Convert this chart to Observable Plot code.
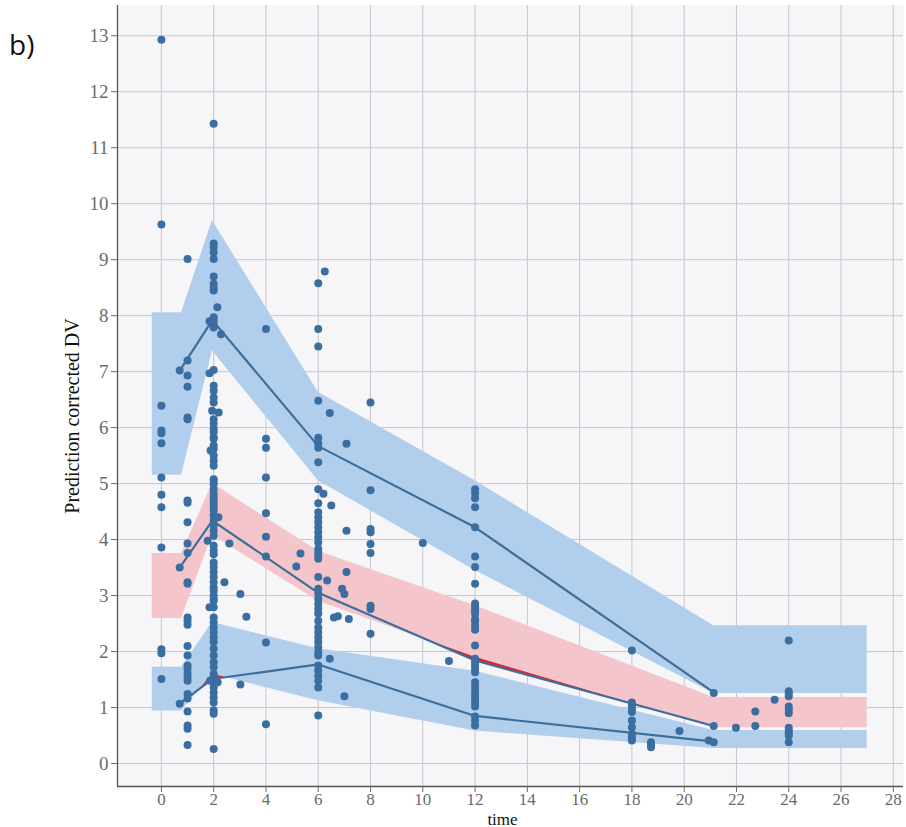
<!DOCTYPE html>
<html>
<head>
<meta charset="utf-8">
<script src="https://cdn.jsdelivr.net/npm/d3@7"></script>
<script src="https://cdn.jsdelivr.net/npm/@observablehq/plot@0.6"></script>
<style>
  html, body { margin: 0; padding: 0; background: #ffffff; }
  #wrap { position: relative; width: 906px; height: 827px; }
  #tag { position: absolute; left: 9px; top: 25px; font-family: "Open Sans", "Noto Sans", sans-serif; font-size: 28px; color: #111; }
  #chart { position: absolute; left: 0; top: 0; }
  #chart svg, #chart svg g, #chart svg text { font-family: "Liberation Serif", "DejaVu Serif", serif !important; }
</style>
</head>
<body>
<div id="wrap">
  <div id="chart"></div>
  <div id="tag">b)</div>
</div>
<script>
// ---------- data ----------
const xTicks = [0, 2, 4, 6, 8, 10, 12, 14, 16, 18, 20, 22, 24, 26, 28];
const yTicks = [0, 1, 2, 3, 4, 5, 6, 7, 8, 9, 10, 11, 12, 13];
const xDomain = [-1.68, 28.39];
const yDomain = [-0.41, 13.54];
const xLabel = "time";
const yLabel = "Prediction corrected DV";

// simulated prediction intervals (band vertices)
const bandX = [-0.35, 0.77, 1.95, 6, 12, 21.13, 27];
const upLo  = [5.15, 5.15, 7.37, 5.05, 3.45, 1.25, 1.25];
const upHi  = [8.05, 8.05, 9.7, 6.63, 5.05, 2.46, 2.46];
const medLo = [2.59, 2.59, 4.08, 2.9, 1.9, 0.64, 0.64];
const medHi = [3.75, 3.75, 5.0, 3.79, 2.82, 1.18, 1.18];
const lowLo = [0.94, 0.94, 1.6, 1.12, 0.58, 0.27, 0.27];
const lowHi = [1.72, 1.72, 2.52, 2.05, 1.65, 0.59, 0.59];

// observed percentiles
const lineX  = [0.7, 1.95, 6, 12, 21.13];
const upObs  = [7.02, 7.92, 5.67, 4.22, 1.27];
const medObs = [3.5, 4.34, 3.05, 1.84, 0.67];
const lowObs = [1.07, 1.51, 1.77, 0.85, 0.39];

// observations by nominal time
const col0  = [12.93, 9.63, 6.39, 5.95, 5.9, 5.72, 5.11, 4.8, 4.58, 3.86, 2.04, 1.97, 1.51];
const col07 = [7.02, 3.5, 1.07];
const col1  = [9.01, 7.2, 6.93, 6.73, 6.18, 6.15, 4.7, 4.66, 4.31, 3.93, 3.76, 3.24, 3.21, 2.61, 2.55, 2.48, 2.1, 1.93, 1.75, 1.69, 1.61, 1.54, 1.48, 1.24, 1.16, 0.93, 0.68, 0.62, 0.33];
const col2  = [11.43, 9.29, 9.22, 9.13, 9.01, 8.7, 8.57, 8.5, 8.45, 7.97, 7.92, 7.85, 7.79, 7.03, 6.75, 6.66, 6.54, 6.45, 6.15, 6.07, 5.98, 5.92, 5.83, 5.8, 5.68, 5.62, 5.5, 5.41, 5.32, 5.08, 5.05, 4.99, 4.9, 4.82, 4.76, 4.7, 4.64, 4.58, 4.52, 4.43, 4.34, 4.25, 4.16, 4.07, 3.89, 3.8, 3.74, 3.59, 3.51, 3.42, 3.33, 3.24, 3.15, 3.09, 3.0, 2.94, 2.91, 2.79, 2.61, 2.52, 2.43, 2.34, 2.25, 2.17, 2.05, 1.93, 1.81, 1.72, 1.6, 1.54, 1.48, 1.45, 1.36, 1.27, 1.18, 1.09, 0.95, 0.89, 0.26];
const col4  = [7.76, 5.8, 5.64, 5.11, 4.47, 4.05, 3.7, 2.16, 0.7];
const col6  = [8.58, 7.76, 7.45, 6.48, 5.82, 5.72, 5.64, 5.38, 4.9, 4.65, 4.49, 4.4, 4.31, 4.22, 4.13, 4.04, 3.95, 3.83, 3.77, 3.71, 3.66, 3.33, 3.12, 3.03, 2.94, 2.85, 2.76, 2.68, 2.55, 2.43, 2.34, 2.25, 2.17, 2.08, 1.99, 1.93, 1.75, 1.66, 1.57, 1.48, 1.36, 0.86];
const col8  = [6.45, 4.88, 4.19, 4.13, 3.92, 3.76, 2.82, 2.76, 2.32];
const col12 = [4.9, 4.83, 4.74, 4.58, 4.22, 3.7, 3.51, 3.21, 2.86, 2.8, 2.74, 2.68, 2.58, 2.54, 2.46, 2.39, 2.11, 1.87, 1.81, 1.75, 1.69, 1.63, 1.45, 1.38, 1.3, 1.23, 1.16, 1.09, 1.02, 0.84, 0.76, 0.68];
const col18 = [2.02, 1.09, 1.04, 0.98, 0.92, 0.77, 0.65, 0.53, 0.47, 0.41];
const col24 = [2.2, 1.29, 1.24, 1.2, 1.02, 0.96, 0.9, 0.64, 0.59, 0.54, 0.5, 0.38];
// scattered observations at other times
const otherT  = [1.84, 1.84, 1.94, 2.19, 1.88, 2.14, 2.28, 2.18, 1.77, 2.41, 2.6, 3.02, 3.25, 3.02, 1.84, 1.86, 2.15, 5.32, 5.16, 6.25, 6.44, 7.08, 6.2, 6.5, 7.08, 7.08, 6.34, 6.91, 7.0, 6.6, 6.75, 7.17, 6.44, 7.0, 10.0, 11.0, 18.73, 18.73, 18.73, 19.82, 20.94, 21.13, 21.13, 21.13, 21.98, 22.72, 22.72, 23.46];
const otherDV = [7.9, 6.97, 6.3, 6.27, 5.59, 8.15, 7.67, 4.4, 3.98, 3.24, 3.93, 3.03, 2.62, 1.41, 2.79, 1.48, 1.45, 3.75, 3.52, 8.79, 6.26, 5.71, 4.82, 4.61, 4.16, 3.42, 3.27, 3.12, 3.03, 2.61, 2.63, 2.58, 1.87, 1.2, 3.94, 1.83, 0.38, 0.33, 0.29, 0.58, 0.41, 1.26, 0.67, 0.38, 0.64, 0.93, 0.67, 1.14];

// ---------- build tables ----------
const columns = [[0, col0], [0.7, col07], [1, col1], [2, col2], [4, col4], [6, col6], [8, col8], [12, col12], [18, col18], [24, col24]];
const obs = [];
for (const [t, vals] of columns) for (const v of vals) obs.push({t, dv: v});
otherT.forEach((t, i) => obs.push({t, dv: otherDV[i]}));

const bands = bandX.map((t, i) => ({t, upLo: upLo[i], upHi: upHi[i], medLo: medLo[i], medHi: medHi[i], lowLo: lowLo[i], lowHi: lowHi[i]}));
const lines = [];
lineX.forEach((t, i) => {
  lines.push({t, v: upObs[i], s: "up"});
  lines.push({t, v: medObs[i], s: "med"});
  lines.push({t, v: lowObs[i], s: "low"});
});

function interp(xs, ys, t) {
  if (t <= xs[0]) return ys[0];
  for (let i = 0; i < xs.length - 1; i++) {
    if (t <= xs[i + 1]) {
      const f = (t - xs[i]) / (xs[i + 1] - xs[i]);
      return ys[i] + f * (ys[i + 1] - ys[i]);
    }
  }
  return ys[ys.length - 1];
}
const grid = d3.range(lineX[0], lineX[lineX.length - 1] + 1e-9, 0.01);
function outside(o, lo, hi, key) {
  return grid.map(t => {
    const v = interp(lineX, o, t), l = interp(bandX, lo, t), h = interp(bandX, hi, t);
    return {t, y1: v, y2: v < l ? l : v > h ? h : v, key};
  });
}
const red = [
  ...outside(upObs, upLo, upHi, "up"),
  ...outside(medObs, medLo, medHi, "med"),
  ...outside(lowObs, lowLo, lowHi, "low")
];

// ---------- chart ----------
const blue = "#b1cfec", pink = "#f4c5ca", dotC = "#3a6ea1", lineC = "#3d6d9b", gridC = "#c6c6ce", axisC = "#6a6a6a";
const serif = "'Liberation Serif', 'DejaVu Serif', serif";

const chart = Plot.plot({
  width: 906,
  height: 827,
  marginLeft: 117,
  marginRight: 3,
  marginTop: 5,
  marginBottom: 41,
  style: {fontFamily: serif, background: "transparent"},
  x: {domain: xDomain},
  y: {domain: yDomain},
  marks: [
    Plot.frame({fill: "#f6f5f8", stroke: null}),
    Plot.gridX(xTicks, {stroke: gridC, strokeOpacity: 1, strokeWidth: 1}),
    Plot.gridY(yTicks, {stroke: gridC, strokeOpacity: 1, strokeWidth: 1}),
    Plot.areaY(bands, {x: "t", y1: "upLo", y2: "upHi", fill: blue, curve: "linear"}),
    Plot.areaY(bands, {x: "t", y1: "medLo", y2: "medHi", fill: pink, curve: "linear"}),
    Plot.areaY(bands, {x: "t", y1: "lowLo", y2: "lowHi", fill: blue, curve: "linear"}),
    Plot.areaY(red, {x: "t", y1: "y1", y2: "y2", z: "key", fill: "#e3222c"}),
    Plot.line(lines, {x: "t", y: "v", z: "s", stroke: lineC, strokeWidth: 2.2}),
    Plot.dot(obs, {x: "t", y: "dv", r: 4, fill: dotC, stroke: null}),
    Plot.ruleY([yDomain[0]], {stroke: "#555", strokeWidth: 1.3}),
    Plot.ruleX([xDomain[0]], {stroke: "#555", strokeWidth: 1.3}),
    Plot.axisX(xTicks, {tickSize: 6, tickPadding: 0, fontSize: 17, fontFamily: serif, color: axisC, label: null, tickFormat: d => String(d)}),
    Plot.axisY(yTicks, {tickSize: 6, tickPadding: 3, fontSize: 19, fontFamily: serif, color: axisC, label: null, tickFormat: d => String(d)}),
    Plot.text([xLabel], {frameAnchor: "bottom", dx: -8, dy: 38, fontSize: 17, fontFamily: serif, fill: "#111", lineAnchor: "bottom"}),
    Plot.text([yLabel], {frameAnchor: "left", dx: -45, dy: 20, rotate: -90, textAnchor: "middle", fontSize: 20, fontFamily: serif, fill: "#111"})
  ]
});
document.getElementById("chart").appendChild(chart);
</script>
</body>
</html>
